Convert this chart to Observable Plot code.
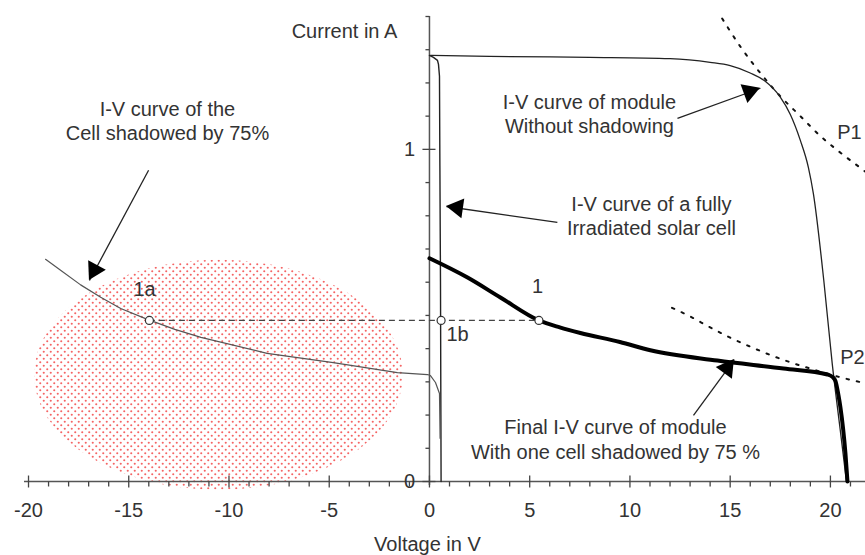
<!DOCTYPE html>
<html><head><meta charset="utf-8">
<script src="https://cdn.jsdelivr.net/npm/d3@7"></script>
<script src="https://cdn.jsdelivr.net/npm/@observablehq/plot@0.6"></script>
<style>body{margin:0;background:#fff}#chart svg{display:block}</style>
</head><body><div id="chart"></div>
<script>
// I-V curve of module without shadowing
const moduleV = [0.05, 3, 8, 12, 14, 15, 16, 16.7, 17.5, 18.0, 18.5, 18.9, 19.15, 19.67, 20.09, 20.5, 20.8];
const moduleI = [1.283, 1.280, 1.277, 1.273, 1.262, 1.252, 1.230, 1.207, 1.157, 1.105, 1.027, 0.946, 0.867, 0.605, 0.355, 0.15, 0];
// I-V curve of a fully irradiated solar cell
const cellV = [0, 0.2, 0.4, 0.45, 0.5, 0.52, 0.55, 0.57, 0.58];
const cellI = [1.283, 1.277, 1.268, 1.256, 1.22, 0.95, 0.6, 0.2, 0];
// I-V curve of the cell shadowed by 75 %
const shadowV = [-19.15, -18.4, -17.4, -16.4, -15.4, -14.07, -12.7, -11.4, -8.1, -4.8, -1.6, -0.1, 0.05, 0.3, 0.5, 0.53];
const shadowI = [0.669, 0.636, 0.592, 0.555, 0.521, 0.488, 0.458, 0.434, 0.386, 0.358, 0.328, 0.322, 0.319, 0.298, 0.265, 0.13];
// Final I-V curve of module with one cell shadowed by 75 %
const finalV = [0, 1.9, 3.54, 5.46, 6.5, 7.53, 9.5, 11.02, 14.36, 17.66, 19.85, 20.1, 20.25, 20.4, 20.5, 20.75, 20.85];
const finalI = [0.672, 0.614, 0.554, 0.485, 0.464, 0.447, 0.420, 0.395, 0.364, 0.340, 0.322, 0.315, 0.303, 0.26, 0.223, 0.084, 0];
// constant-power curves P1 and P2 (dotted)
const p1V = [14.6, 15.5, 16.5, 17.5, 18.5, 19.5, 20.5, 21.5, 21.8];
const p1I = [1.394, 1.31, 1.23, 1.16, 1.10, 1.04, 0.99, 0.944, 0.93];
const p2V = [12.1, 13, 14, 15, 16, 17, 18, 19, 20, 21, 21.8];
const p2I = [0.523, 0.497, 0.464, 0.433, 0.406, 0.381, 0.359, 0.340, 0.322, 0.306, 0.295];
// operating points
const pointNames = ["1a", "1b", "1"];
const pointV = [-13.97, 0.58, 5.46];
const pointI = [0.485, 0.485, 0.485];
// axis ticks
const xTickLabels = [-20, -15, -10, -5, 0, 5, 10, 15, 20];
const xMinorTicks = d3.range(-19, 22).filter(v => v % 5 !== 0);
const yTickLabels = [0, 1];
const yMinorTicks = [0.1,0.2,0.3,0.4,0.5,0.6,0.7,0.8,0.9,1.1,1.2,1.3,1.4];

// annotations (data coordinates)
const labels = [
  {t: "Current in A", v: -4.24, i: 1.356},
  {t: "Voltage in V", v: -0.1, i: -0.1885},
  {t: "I-V curve of the", v: -13.07, i: 1.121},
  {t: "Cell shadowed by 75%", v: -13.07, i: 1.046},
  {t: "I-V curve of module", v: 7.98, i: 1.142},
  {t: "Without shadowing", v: 7.98, i: 1.070},
  {t: "I-V curve of a fully", v: 11.07, i: 0.835},
  {t: "Irradiated solar cell", v: 11.07, i: 0.760},
  {t: "Final I-V curve of module", v: 9.28, i: 0.161},
  {t: "With one cell shadowed by 75 %", v: 9.28, i: 0.0885},
  {t: "1a", v: -14.21, i: 0.578},
  {t: "1b", v: 1.40, i: 0.443},
  {t: "1", v: 5.39, i: 0.587},
  {t: "P1", v: 20.95, i: 1.051},
  {t: "P2", v: 21.1, i: 0.372}
];
const arrows = [
  {fromV: -14.01, fromI: 0.937, toV: -16.96, toI: 0.605},
  {fromV: 12.37, fromI: 1.093, toV: 16.51, toI: 1.184},
  {fromV: 6.38, fromI: 0.780, toV: 0.85, toI: 0.828},
  {fromV: 13.17, fromI: 0.199, toV: 15.21, toI: 0.367}
];
const shadowArea = {cV: -10.5, cI: 0.32, rV: 9.2, rI: 0.346};

const pts = (V, I) => V.map((v, k) => ({v, i: I[k]}));
const moduleData = pts(moduleV, moduleI);
const cellData = pts(cellV, cellI);
const shadowData = pts(shadowV, shadowI);
const finalData = pts(finalV, finalI);
const p1Data = pts(p1V, p1I);
const p2Data = pts(p2V, p2I);
const pointData = pointNames.map((n, k) => ({n, v: pointV[k], i: pointI[k]}));

function dottedEllipse(index, scales) {
  const g = d3.create("svg:g");
  const pat = g.append("defs").append("pattern").attr("id", "reddots")
    .attr("patternUnits", "userSpaceOnUse").attr("width", 7).attr("height", 7);
  pat.append("circle").attr("cx", 1.75).attr("cy", 1.75).attr("r", 1.05).attr("fill", "#f02828");
  pat.append("circle").attr("cx", 5.25).attr("cy", 5.25).attr("r", 1.05).attr("fill", "#f02828");
  const cx = scales.x(shadowArea.cV), cy = scales.y(shadowArea.cI);
  const rx = Math.abs(scales.x(shadowArea.cV + shadowArea.rV) - cx);
  const ry = Math.abs(scales.y(shadowArea.cI + shadowArea.rI) - cy);
  g.append("ellipse").attr("cx", cx).attr("cy", cy).attr("rx", rx).attr("ry", ry)
    .attr("fill", "url(#reddots)").attr("opacity", 0.72);
  return g.node();
}
function arrowHeads(index, scales) {
  const g = d3.create("svg:g");
  for (const a of arrows) {
    const x1 = scales.x(a.fromV), y1 = scales.y(a.fromI), x2 = scales.x(a.toV), y2 = scales.y(a.toI);
    const L = Math.hypot(x2 - x1, y2 - y1), ux = (x2 - x1) / L, uy = (y2 - y1) / L;
    const len = 17, hw = 10;
    const bx = x2 - ux * len, by = y2 - uy * len;
    const p = [[x2, y2], [bx - uy * hw, by + ux * hw], [bx + uy * hw, by - ux * hw]];
    g.append("polygon").attr("points", p.map(q => q.join(",")).join(" ")).attr("fill", "#000");
  }
  return g.node();
}

const font = "'Liberation Sans', Arial, sans-serif";
const txt = "#333";
const chart = Plot.plot({
  width: 865, height: 555,
  marginLeft: 24, marginRight: 0, marginTop: 16, marginBottom: 74,
  x: {domain: [-20.2, 21.75], axis: null},
  y: {domain: [0, 1.4], axis: null},
  style: {fontFamily: font, fontSize: "20px", background: "#fff"},
  marks: [
    dottedEllipse,
    Plot.ruleY([0], {stroke: "#555", strokeWidth: 1.5}),
    Plot.ruleX([0], {y1: -0.012, y2: 1.4, stroke: "#555", strokeWidth: 1.5}),
    Plot.link(xTickLabels, {x1: d => d, x2: d => d, y1: () => -0.018, y2: () => 0.018, stroke: "#444", strokeWidth: 1.3}),
    Plot.link(xMinorTicks, {x1: d => d, x2: d => d, y1: () => -0.015, y2: () => 0, stroke: "#444", strokeWidth: 1.3}),
    Plot.link(yTickLabels, {y1: d => d, y2: d => d, x1: () => -0.35, x2: () => 0.3, stroke: "#444", strokeWidth: 1.3}),
    Plot.link(yMinorTicks, {y1: d => d, y2: d => d, x1: () => -0.2, x2: () => 0, stroke: "#444", strokeWidth: 1.3}),
    Plot.text(xTickLabels, {x: d => d, y: () => 0, dy: 29, text: d => String(d), fontSize: 20, fill: txt}),
    Plot.text(yTickLabels, {x: () => 0, y: d => d, dx: -20, text: d => String(d), fontSize: 20, fill: txt}),
    Plot.line(p1Data, {x: "v", y: "i", stroke: "#111", strokeWidth: 2, strokeDasharray: "2.5,8", curve: "monotone-x"}),
    Plot.line(p2Data, {x: "v", y: "i", stroke: "#111", strokeWidth: 2, strokeDasharray: "2.5,8", curve: "monotone-x"}),
    Plot.line(moduleData, {x: "v", y: "i", stroke: "#222", strokeWidth: 1.3, curve: "monotone-x"}),
    Plot.line(cellData, {x: "v", y: "i", stroke: "#222", strokeWidth: 1.4}),
    Plot.line(shadowData, {x: "v", y: "i", stroke: "#555", strokeWidth: 1.2}),
    Plot.line(finalData, {x: "v", y: "i", stroke: "#000", strokeWidth: 4, curve: "monotone-x"}),
    Plot.ruleY([pointI[0]], {x1: pointV[0], x2: pointV[2], stroke: "#444", strokeWidth: 1.4, strokeDasharray: "6,4"}),
    Plot.dot(pointData, {x: "v", y: "i", r: 4, fill: "#fff", stroke: "#333", strokeWidth: 1.2}),
    Plot.link(arrows, {x1: "fromV", y1: "fromI", x2: "toV", y2: "toI", stroke: "#222", strokeWidth: 1.3}),
    arrowHeads,
    Plot.text(labels, {x: "v", y: "i", text: "t", fontSize: 20, fill: txt})
  ]
});
document.getElementById("chart").append(chart);
</script>
</body></html>
